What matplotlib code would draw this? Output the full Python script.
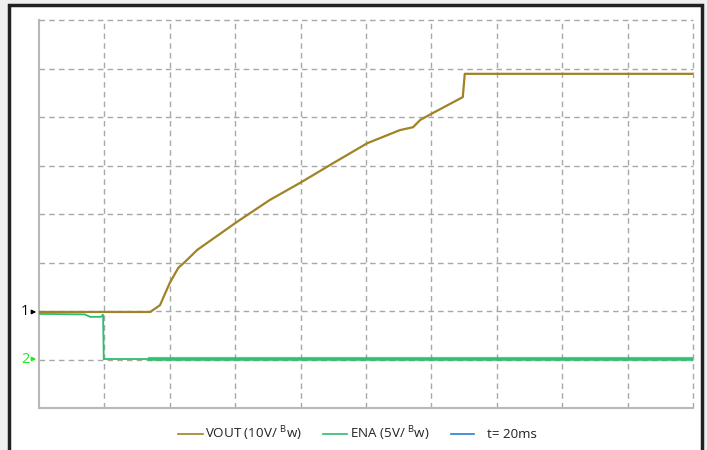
import matplotlib
matplotlib.use("Agg")
import matplotlib.pyplot as plt
from matplotlib.patches import Rectangle

# Data in screen divisions (x: 10 div, y: 8 div)
vout_x = [0, 1.70, 1.85, 2.00, 2.13, 2.23, 2.42, 3.03, 3.53, 3.99, 4.50, 5.02, 5.52, 5.72, 5.83, 6.02, 6.48, 6.51, 10.0]
vout_y = [1.98, 1.98, 2.12, 2.58, 2.89, 3.01, 3.26, 3.84, 4.29, 4.64, 5.05, 5.46, 5.73, 5.79, 5.94, 6.08, 6.41, 6.89, 6.89]

ena_x = [0, 0.70, 0.78, 0.95, 0.98, 0.99, 1.70]
ena_y = [1.94, 1.93, 1.88, 1.88, 1.93, 1.01, 1.01]
ena_noisy_x = [1.70, 10.0]
ena_noisy_y = [1.01, 1.01]

legend_labels = ["VOUT (10V/ $^{\\mathregular{B}}$w)", "ENA (5V/ $^{\\mathregular{B}}$w)", "t= 20ms"]
ch1_label = "1"
ch2_label = "2"

VOUT_C = "#a08326"
ENA_C = "#2dbe6c"
T_C = "#2a7fd0"

plt.rcParams['font.family'] = ['Open Sans', 'DejaVu Sans']

W, H = 707, 450
fig = plt.figure(figsize=(W / 100, H / 100), dpi=100, facecolor="#f0f0f0")

# Outer frame
frame = Rectangle((9 / W, -0.05), (702 - 9) / W, (H - 5) / H + 0.05, transform=fig.transFigure,
                  facecolor="white", edgecolor="#222222", linewidth=2.5, zorder=-5)
fig.patches.append(frame)

L, R, T, B = 39, 693, 20, 408
ax = fig.add_axes([L / W, 1 - B / H, (R - L) / W, (B - T) / H])
ax.set_zorder(2)
ax.set_xlim(0, 10)
ax.set_ylim(0, 8)
ax.set_facecolor("white")
for s in ax.spines.values():
    s.set_visible(False)
ax.set_xticks([])
ax.set_yticks([])

grid_c = "#a8a8a8"
for i in range(1, 11):
    ax.axvline(i, color=grid_c, lw=1, ls=(0, (4, 3)), clip_on=False, zorder=1)
for j in range(1, 9):
    ax.axhline(j, color=grid_c, lw=1, ls=(0, (4, 3)), clip_on=False, zorder=1)
ax.axvline(0, color="#b8b8b8", lw=1.5, clip_on=False, zorder=1)
ax.axhline(0, color="#b8b8b8", lw=1.5, clip_on=False, zorder=1)

ax.plot(ena_x, ena_y, color=ENA_C, lw=1.3, zorder=3, solid_joinstyle="miter")
ax.plot(ena_noisy_x, ena_noisy_y, color=ENA_C, lw=3.0, alpha=0.8, zorder=3)
ax.plot(ena_noisy_x, ena_noisy_y, color=ENA_C, lw=1.2, zorder=3)
ax.plot(vout_x, vout_y, color=VOUT_C, lw=1.6, zorder=4)

# Channel markers
ax.text(-0.15, 1.98, ch1_label, color="black", fontsize=10.5, ha="right", va="center", clip_on=False)
ax.annotate("", xy=(0, 1.98), xytext=(-0.15, 1.98),
            arrowprops=dict(arrowstyle="-|>", color="black", lw=1, mutation_scale=6),
            annotation_clip=False)
ax.text(-0.15, 1.01, ch2_label, color="#22e622", fontsize=10.5, ha="right", va="center", clip_on=False)
ax.annotate("", xy=(0, 1.01), xytext=(-0.15, 1.01),
            arrowprops=dict(arrowstyle="-|>", color="#22e622", lw=1, mutation_scale=6),
            annotation_clip=False)

# Legend drawn manually
ly = 1 - 434 / H
items = [(178, 203, 205, VOUT_C, legend_labels[0]),
         (323, 347, 350, ENA_C, legend_labels[1]),
         (451, 474, 487, T_C, legend_labels[2])]
for x0, x1, xt, c, lab in items:
    fig.add_artist(plt.Line2D([x0 / W, x1 / W], [ly, ly], transform=fig.transFigure, color=c, lw=1.2))
    fig.text(xt / W, ly, lab, fontsize=9.6, ha="left", va="center", color="#222222")

fig.savefig("out.png", dpi=100, facecolor=fig.get_facecolor())
